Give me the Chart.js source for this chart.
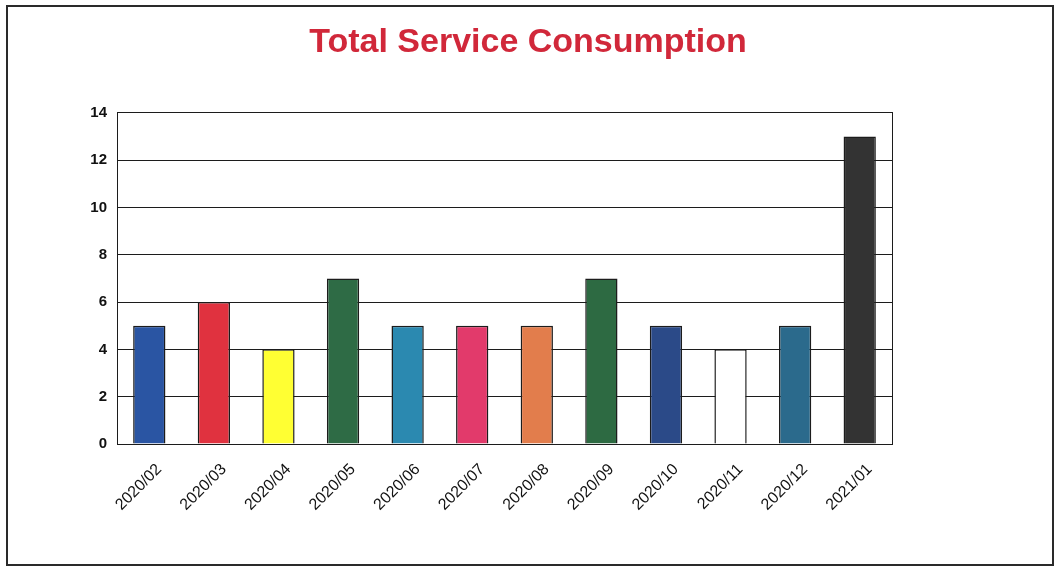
<!DOCTYPE html>
<html>
<head>
<meta charset="utf-8">
<script src="https://cdn.jsdelivr.net/npm/chart.js@4/dist/chart.umd.min.js"></script>
<style>
  html, body { margin: 0; padding: 0; background: #fff; }
  #wrap { position: relative; width: 1056px; height: 567px; }
  #frame { position: absolute; left: 6px; top: 5px; width: 1044px; height: 557px; border: 2px solid #2a2a2a; }
  canvas { position: absolute; left: 0; top: 0; }
</style>
</head>
<body>
<div id="wrap">
  <div id="frame"></div>
  <canvas id="chart" width="1056" height="567"></canvas>
</div>
<script>
// data
const months = ["2020/02", "2020/03", "2020/04", "2020/05", "2020/06", "2020/07",
                "2020/08", "2020/09", "2020/10", "2020/11", "2020/12", "2021/01"];
const consumption = [5, 6, 4, 7, 5, 5, 5, 7, 5, 4, 5, 13];
const barColors = ["#2a55a3", "#e0323f", "#ffff33", "#2e6b45", "#2b89b0", "#e23a6b",
                   "#e27d4c", "#2d6a42", "#2b4a88", "#ffffff", "#2b6a8c", "#333333"];

const ctx = document.getElementById("chart").getContext("2d");

new Chart(ctx, {
  type: "bar",
  data: {
    labels: months,
    datasets: [{
      label: "Total Service Consumption",
      data: consumption,
      backgroundColor: barColors,
      borderColor: "#1c1c1c",
      borderWidth: 1.5,
      barPercentage: 0.5,
      categoryPercentage: 1.0,
    }],
  },
  options: {
    responsive: false,
    animation: false,
    layout: { padding: 0 },
    plugins: {
      legend: { display: false },
      tooltip: { enabled: false },
      title: {
        display: true,
        text: "Total Service Consumption",
        color: "#d1283a",
        font: { family: "Arial, 'Liberation Sans', sans-serif", size: 34, weight: "bold" },
        padding: { top: 22, bottom: 50 },
      },
    },
    scales: {
      x: {
        grid: { display: false },
        border: { display: true, color: "#1c1c1c" },
        ticks: {
          color: "#111",
          font: { family: "Arial, 'Liberation Sans', sans-serif", size: 16 },
          minRotation: 45,
          maxRotation: 45,
          padding: 8,
          labelOffset: 10,
        },
        afterFit: (scale) => { scale.height = 123; },
      },
      y: {
        min: 0,
        max: 14,
        ticks: {
          stepSize: 2,
          color: "#111",
          font: { family: "Arial, 'Liberation Sans', sans-serif", size: 15, weight: "bold" },
          padding: 10,
        },
        grid: { color: "#1c1c1c", lineWidth: 1, drawTicks: false },
        border: { display: true, color: "#1c1c1c" },
        afterFit: (scale) => { scale.width = 117; },
      },
      y2: {
        position: "right",
        min: 0,
        max: 14,
        grid: { display: false, drawTicks: false },
        ticks: { display: false },
        border: { display: true, color: "#1c1c1c" },
        afterFit: (scale) => { scale.width = 164; },
      },
    },
  },
});
</script>
</body>
</html>
